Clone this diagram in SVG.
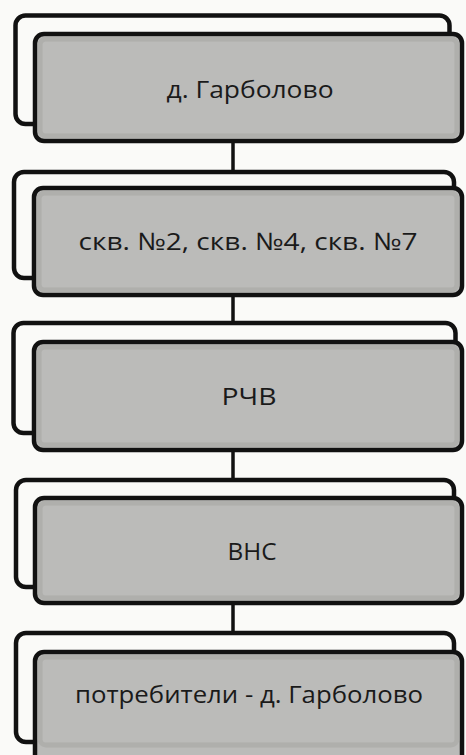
<svg xmlns="http://www.w3.org/2000/svg" width="466" height="755" viewBox="0 0 466 755">
<style>
.bg{fill:#fafaf8}
.back{fill:#fafaf8;stroke:#111;stroke-width:4.5}
.front{fill:#bbbbb9;stroke:#111;stroke-width:4.5}
.bevel{fill:none;stroke:#a9a9a7;stroke-width:5;opacity:0.7}
.lbl{font-family:"Open Sans","Noto Sans","DejaVu Sans",sans-serif;font-size:24px;fill:#1a1a1a;text-anchor:middle}
.conn{stroke:#111;stroke-width:3.5;fill:none}
</style>
<rect class="bg" x="0" y="0" width="466" height="755"/>
<g id="connectors">
<line class="conn" x1="233" y1="141" x2="233" y2="172"/>
<line class="conn" x1="233" y1="295" x2="233" y2="323"/>
<line class="conn" x1="233" y1="450" x2="233" y2="480"/>
<line class="conn" x1="233" y1="603" x2="233" y2="633"/>
</g>
<g id="n1">
<rect class="back" x="15.5" y="15.5" width="434" height="108.5" rx="10"/>
<rect class="front" x="35" y="34" width="427" height="107" rx="9"/>
<rect class="bevel" x="40" y="39" width="417" height="97" rx="6"/>
<text class="lbl" x="250" y="98" textLength="167" lengthAdjust="spacingAndGlyphs">д. Гарболово</text>
</g>
<g id="n2">
<rect class="back" x="14" y="172" width="440" height="106" rx="10"/>
<rect class="front" x="34" y="188" width="428" height="107" rx="9"/>
<rect class="bevel" x="39" y="193" width="418" height="97" rx="6"/>
<text class="lbl" x="248" y="250" textLength="339" lengthAdjust="spacingAndGlyphs">скв. №2, скв. №4, скв. №7</text>
</g>
<g id="n3">
<rect class="back" x="13.5" y="323" width="442" height="110" rx="10"/>
<rect class="front" x="34" y="342" width="428" height="108" rx="9"/>
<rect class="bevel" x="39" y="347" width="418" height="98" rx="6"/>
<text class="lbl" x="249" y="405" textLength="55" lengthAdjust="spacingAndGlyphs">РЧВ</text>
</g>
<g id="n4">
<rect class="back" x="16" y="480" width="438" height="107" rx="10"/>
<rect class="front" x="35" y="498" width="427" height="105" rx="9"/>
<rect class="bevel" x="40" y="503" width="417" height="95" rx="6"/>
<text class="lbl" x="252" y="560" textLength="49" lengthAdjust="spacingAndGlyphs">ВНС</text>
</g>
<g id="n5">
<rect class="back" x="16" y="633" width="438" height="109" rx="10"/>
<rect class="front" x="35" y="652" width="427" height="120" rx="9"/>
<rect class="bevel" x="40" y="657" width="417" height="88" rx="6"/>
<text class="lbl" x="249" y="703" textLength="348" lengthAdjust="spacingAndGlyphs">потребители - д. Гарболово</text>
</g>
</svg>
